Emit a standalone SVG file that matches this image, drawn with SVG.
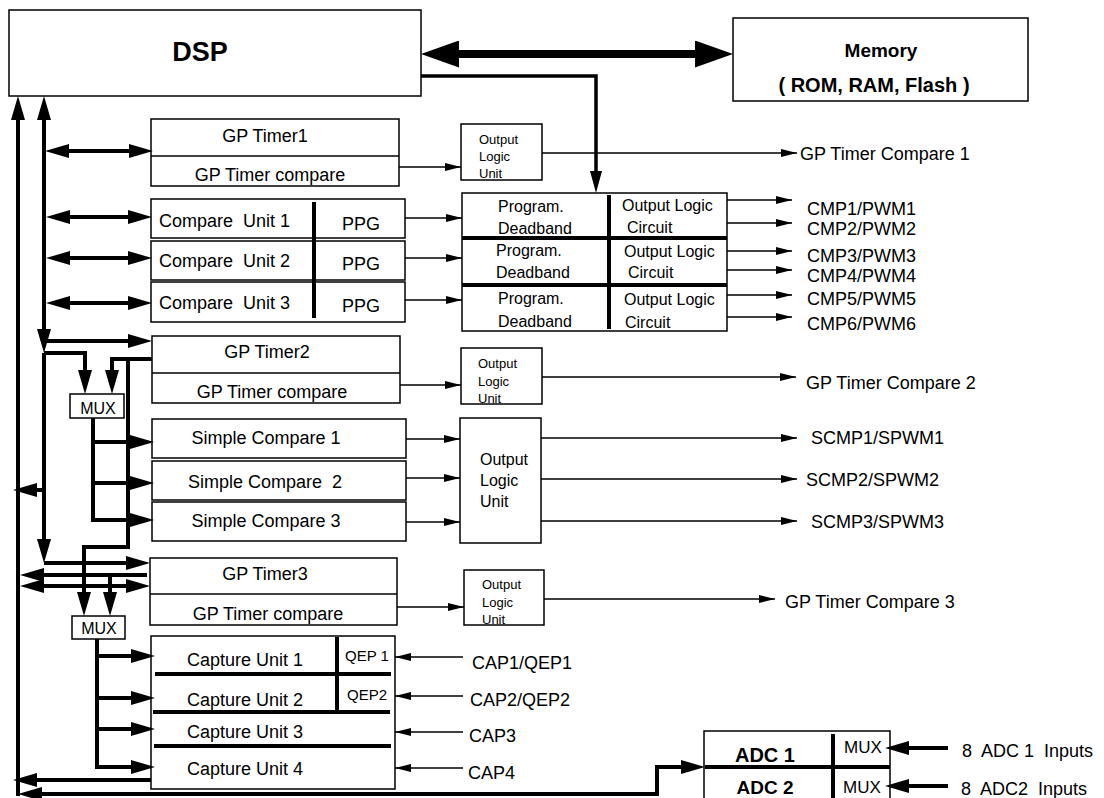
<svg xmlns="http://www.w3.org/2000/svg" width="1104" height="798" viewBox="0 0 1104 798">
<style>
.b{fill:#fff;stroke:#000;stroke-width:1.5}
.t{font-family:"Liberation Sans",Arial,sans-serif;font-size:18px;fill:#000}
.s13{font-size:13px}
.s16{font-size:16px}
.s15{font-size:15px}
.bd{font-weight:bold}
.c{text-anchor:middle}
.k{fill:none;stroke:#000;stroke-width:4}
.n{fill:none;stroke:#000;stroke-width:1.5}
.dv{stroke:#000;stroke-width:1.5}
.tk{stroke:#000;stroke-width:4}
</style>
<defs>
<marker id="A" markerUnits="userSpaceOnUse" markerWidth="24" markerHeight="14" viewBox="0 0 24 14" refX="16" refY="7" orient="auto-start-reverse"><path d="M0,0L24,7L0,14z"/></marker>
<marker id="S" markerUnits="userSpaceOnUse" markerWidth="16" markerHeight="8" viewBox="0 0 16 8" refX="16" refY="4" orient="auto-start-reverse"><path d="M0,0L16,4L0,8z"/></marker>
<marker id="M" markerUnits="userSpaceOnUse" markerWidth="38" markerHeight="27" viewBox="0 0 38 27" refX="26" refY="13.5" orient="auto-start-reverse"><path d="M0,0L38,13.5L0,27z"/></marker>
<marker id="D" markerUnits="userSpaceOnUse" markerWidth="22" markerHeight="12" viewBox="0 0 22 12" refX="15" refY="6" orient="auto-start-reverse"><path d="M0,0L22,6L0,12z"/></marker>
</defs>

<g id="dsp">
<rect class="b" x="9" y="10" width="412" height="86"/>
<text class="t bd c" x="200" y="61" style="font-size:27px">DSP</text>
</g>

<g id="memory">
<rect class="b" x="733" y="18" width="295" height="83"/>
<text class="t bd c" x="881" y="57" style="font-size:19px">Memory</text>
<text class="t bd c" x="874" y="92" style="font-size:20px">( ROM, RAM, Flash )</text>
</g>

<g id="gptimer1">
<rect class="b" x="151" y="119" width="248" height="67"/>
<line class="dv" x1="151" y1="156" x2="399" y2="156"/>
<text class="t c" x="265" y="142">GP Timer1</text>
<text class="t c" x="270" y="181">GP Timer compare</text>
</g>

<g id="olu1">
<rect class="b" x="461" y="124" width="81" height="56"/>
<text class="t s13" x="479" y="144">Output</text>
<text class="t s13" x="479" y="161">Logic</text>
<text class="t s13" x="479" y="178">Unit</text>
</g>

<g id="compare-units">
<rect class="b" x="151" y="199" width="254" height="39"/>
<rect class="b" x="151" y="241" width="254" height="39"/>
<rect class="b" x="151" y="282" width="254" height="40"/>
<line class="tk" x1="314" y1="202" x2="314" y2="318"/>
<text class="t" x="159" y="227" xml:space="preserve">Compare  Unit 1</text>
<text class="t" x="159" y="267" xml:space="preserve">Compare  Unit 2</text>
<text class="t" x="159" y="309" xml:space="preserve">Compare  Unit 3</text>
<text class="t c" x="361" y="230">PPG</text>
<text class="t c" x="361" y="270">PPG</text>
<text class="t c" x="361" y="312">PPG</text>
</g>

<g id="deadband">
<rect class="b" x="462" y="193" width="265" height="138"/>
<line class="tk" x1="462" y1="238" x2="727" y2="238"/>
<line class="tk" x1="462" y1="285" x2="727" y2="285"/>
<line class="tk" x1="609" y1="195" x2="609" y2="329"/>
<text class="t s16" x="498" y="212">Program.</text>
<text class="t s16" x="498" y="234">Deadband</text>
<text class="t s16" x="622" y="211">Output Logic</text>
<text class="t s16" x="627" y="233">Circuit</text>
<text class="t s16" x="496" y="256">Program.</text>
<text class="t s16" x="496" y="278">Deadband</text>
<text class="t s16" x="624" y="257">Output Logic</text>
<text class="t s16" x="628" y="278">Circuit</text>
<text class="t s16" x="498" y="304">Program.</text>
<text class="t s16" x="498" y="327">Deadband</text>
<text class="t s16" x="624" y="305">Output Logic</text>
<text class="t s16" x="625" y="328">Circuit</text>
</g>

<g id="pwm-labels">
<text class="t" x="807" y="215">CMP1/PWM1</text>
<text class="t" x="807" y="235">CMP2/PWM2</text>
<text class="t" x="807" y="262">CMP3/PWM3</text>
<text class="t" x="807" y="282">CMP4/PWM4</text>
<text class="t" x="807" y="305">CMP5/PWM5</text>
<text class="t" x="807" y="330">CMP6/PWM6</text>
<text class="t" x="800" y="160">GP Timer Compare 1</text>
<text class="t" x="806" y="389">GP Timer Compare 2</text>
<text class="t" x="811" y="444">SCMP1/SPWM1</text>
<text class="t" x="806" y="486">SCMP2/SPWM2</text>
<text class="t" x="811" y="528">SCMP3/SPWM3</text>
<text class="t" x="785" y="608">GP Timer Compare 3</text>
</g>

<g id="gptimer2">
<rect class="b" x="152" y="336" width="248" height="67"/>
<line class="dv" x1="152" y1="373" x2="400" y2="373"/>
<text class="t c" x="267" y="358">GP Timer2</text>
<text class="t c" x="272" y="398">GP Timer compare</text>
</g>

<g id="olu2">
<rect class="b" x="461" y="348" width="81" height="56"/>
<text class="t s13" x="478" y="368">Output</text>
<text class="t s13" x="478" y="386">Logic</text>
<text class="t s13" x="478" y="403">Unit</text>
</g>

<g id="mux1">
<rect class="b" x="70" y="394" width="54" height="24"/>
<text class="t s16 c" x="98" y="414">MUX</text>
</g>

<g id="simple-compare">
<rect class="b" x="152" y="419" width="254" height="39"/>
<rect class="b" x="152" y="461" width="254" height="39"/>
<rect class="b" x="152" y="502" width="254" height="39"/>
<text class="t c" x="266" y="444">Simple Compare 1</text>
<text class="t c" x="265" y="488" xml:space="preserve">Simple Compare  2</text>
<text class="t c" x="266" y="527">Simple Compare 3</text>
</g>

<g id="olu-simple">
<rect class="b" x="460" y="418" width="81" height="125"/>
<text class="t s16" x="480" y="465">Output</text>
<text class="t s16" x="480" y="486">Logic</text>
<text class="t s16" x="480" y="507">Unit</text>
</g>

<g id="gptimer3">
<rect class="b" x="150" y="558" width="247" height="67"/>
<line class="dv" x1="150" y1="594" x2="397" y2="594"/>
<text class="t c" x="265" y="580">GP Timer3</text>
<text class="t c" x="268" y="620">GP Timer compare</text>
</g>

<g id="olu3">
<rect class="b" x="464" y="570" width="80" height="55"/>
<text class="t s13" x="482" y="589">Output</text>
<text class="t s13" x="482" y="607">Logic</text>
<text class="t s13" x="482" y="624">Unit</text>
</g>

<g id="mux2">
<rect class="b" x="72" y="616" width="53" height="23"/>
<text class="t s16 c" x="99" y="634">MUX</text>
</g>

<g id="capture">
<rect class="b" x="151" y="636" width="244" height="153"/>
<line class="tk" x1="155" y1="674" x2="391" y2="674"/>
<line class="tk" x1="153" y1="712" x2="390" y2="712"/>
<line class="tk" x1="154" y1="746" x2="391" y2="746"/>
<line class="tk" x1="337" y1="637" x2="337" y2="712"/>
<text class="t" x="187" y="666">Capture Unit 1</text>
<text class="t" x="187" y="706">Capture Unit 2</text>
<text class="t" x="187" y="738">Capture Unit 3</text>
<text class="t" x="187" y="775">Capture Unit 4</text>
<text class="t s15" x="345" y="661">QEP 1</text>
<text class="t s15" x="347" y="700">QEP2</text>
</g>

<g id="cap-labels">
<text class="t" x="472" y="669">CAP1/QEP1</text>
<text class="t" x="470" y="706">CAP2/QEP2</text>
<text class="t" x="469" y="742">CAP3</text>
<text class="t" x="468" y="779">CAP4</text>
</g>

<g id="adc">
<rect class="b" x="704" y="731" width="186" height="80"/>
<line class="tk" x1="705" y1="767" x2="890" y2="767"/>
<line class="tk" x1="833" y1="734" x2="833" y2="800"/>
<text class="t bd c" x="765" y="762" style="font-size:20px">ADC 1</text>
<text class="t bd c" x="765" y="794" style="font-size:19px">ADC 2</text>
<text class="t" x="844" y="753" style="font-size:17px">MUX</text>
<text class="t" x="843" y="793" style="font-size:17px">MUX</text>
<text class="t" x="962" y="757" xml:space="preserve">8  ADC 1  Inputs</text>
<text class="t" x="961" y="795" xml:space="preserve">8  ADC2  Inputs</text>
</g>

<g id="connectors">
<line x1="433" y1="54" x2="721" y2="54" stroke="#000" stroke-width="8" marker-start="url(#M)" marker-end="url(#M)"/>
<path d="M421,76H596V186" fill="none" stroke="#000" stroke-width="3.5" marker-end="url(#D)"/>
<path class="k" d="M18,104V796" marker-start="url(#A)"/>
<path class="k" d="M44,104V345" marker-start="url(#A)" marker-end="url(#A)"/>
<path class="k" d="M44,353V555" marker-end="url(#A)"/>
<path class="k" d="M44,563H142" marker-end="url(#A)"/>
<path class="k" d="M53,151H145" marker-start="url(#A)" marker-end="url(#A)"/>
<path class="k" d="M54,217H144" marker-start="url(#A)" marker-end="url(#A)"/>
<path class="k" d="M54,258H144" marker-start="url(#A)" marker-end="url(#A)"/>
<path class="k" d="M54,303H144" marker-start="url(#A)" marker-end="url(#A)"/>
<path class="k" d="M44,341H144" marker-end="url(#A)"/>
<path class="k" d="M44,353H85V386" marker-end="url(#A)"/>
<path class="k" d="M152,359H112V386" marker-end="url(#A)"/>
<path class="k" d="M128,359V547H84V608" marker-end="url(#A)"/>
<path class="k" d="M93,418V520H146" marker-end="url(#A)"/>
<path class="k" d="M93,442H146" marker-end="url(#A)"/>
<path class="k" d="M93,483H146" marker-end="url(#A)"/>
<path class="k" d="M44,490H21" marker-end="url(#A)"/>
<path class="k" d="M147,575H28" marker-end="url(#A)"/>
<path class="k" d="M110,575V608" marker-end="url(#A)"/>
<path class="k" d="M28,586H142" marker-start="url(#A)" marker-end="url(#A)"/>
<path class="k" d="M97,639V767H147" marker-end="url(#A)"/>
<path class="k" d="M97,656H147" marker-end="url(#A)"/>
<path class="k" d="M97,698H147" marker-end="url(#A)"/>
<path class="k" d="M97,729H147" marker-end="url(#A)"/>
<path class="k" d="M151,780H21" marker-end="url(#A)"/>
<path class="k" d="M26,794H657V767H697" marker-start="url(#A)" marker-end="url(#A)"/>
<path class="k" d="M948,748H893" marker-end="url(#A)"/>
<path class="k" d="M948,786H893" marker-end="url(#A)"/>
<path class="n" d="M399,167H461" marker-end="url(#S)"/>
<path class="n" d="M542,153H797" marker-end="url(#S)"/>
<path class="n" d="M405,218H462" marker-end="url(#S)"/>
<path class="n" d="M405,258H462" marker-end="url(#S)"/>
<path class="n" d="M405,300H462" marker-end="url(#S)"/>
<path class="n" d="M727,200H792" marker-end="url(#S)"/>
<path class="n" d="M727,223H792" marker-end="url(#S)"/>
<path class="n" d="M727,251H792" marker-end="url(#S)"/>
<path class="n" d="M727,270H792" marker-end="url(#S)"/>
<path class="n" d="M727,295H792" marker-end="url(#S)"/>
<path class="n" d="M727,317H792" marker-end="url(#S)"/>
<path class="n" d="M400,385H461" marker-end="url(#S)"/>
<path class="n" d="M542,377H796" marker-end="url(#S)"/>
<path class="n" d="M406,439H460" marker-end="url(#S)"/>
<path class="n" d="M406,478H460" marker-end="url(#S)"/>
<path class="n" d="M406,522H460" marker-end="url(#S)"/>
<path class="n" d="M541,438H797" marker-end="url(#S)"/>
<path class="n" d="M541,479H797" marker-end="url(#S)"/>
<path class="n" d="M541,521H797" marker-end="url(#S)"/>
<path class="n" d="M397,607H464" marker-end="url(#S)"/>
<path class="n" d="M544,599H775" marker-end="url(#S)"/>
<path class="n" d="M463,657H395" marker-end="url(#S)"/>
<path class="n" d="M463,696H395" marker-end="url(#S)"/>
<path class="n" d="M463,732H395" marker-end="url(#S)"/>
<path class="n" d="M463,768H395" marker-end="url(#S)"/>
</g>
</svg>
